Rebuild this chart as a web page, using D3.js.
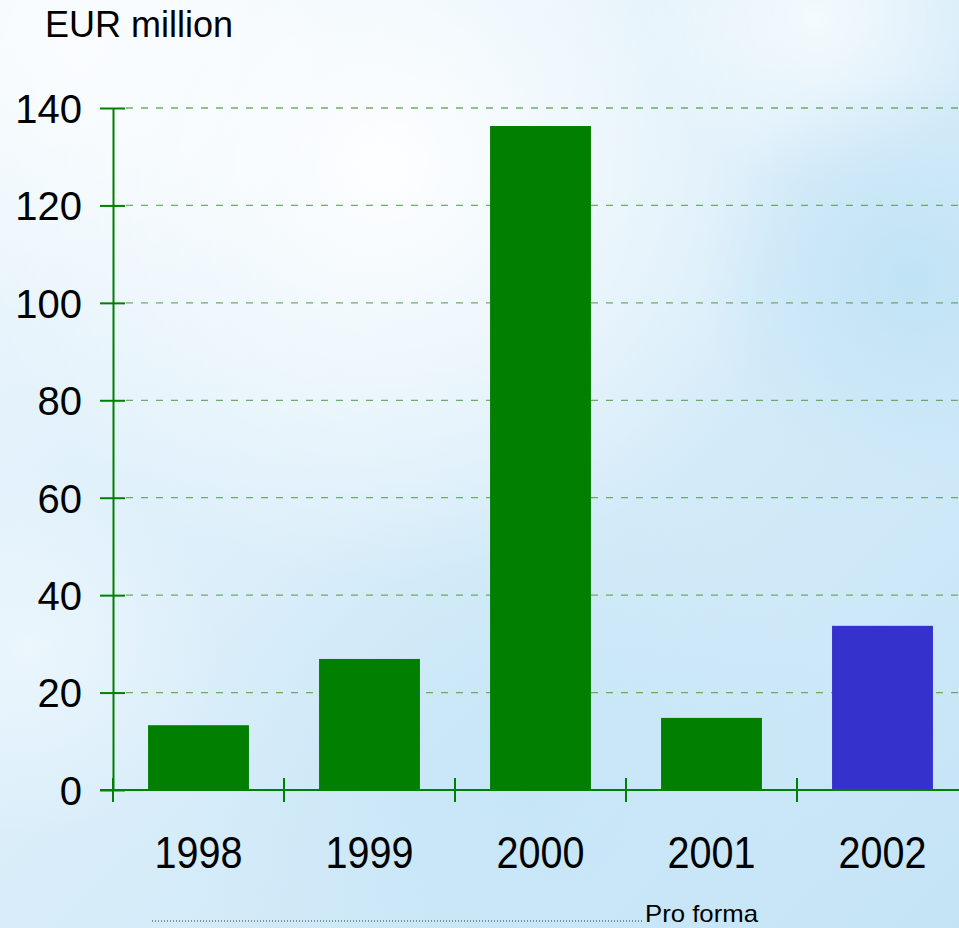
<!DOCTYPE html>
<html>
<head>
<meta charset="utf-8">
<script src="https://cdn.jsdelivr.net/npm/d3@7"></script>
<style>
  body { margin: 0; padding: 0; overflow: hidden; }
  svg { display: block; font-family: "Liberation Sans", Arial, sans-serif; }
</style>
</head>
<body>
<div id="chart"></div>
<script>
const width = 959;
const height = 928;

// data
const years = ["1998", "1999", "2000", "2001", "2002"];
const values = [13.3, 26.9, 136.3, 14.8, 33.7];
const proForma = [false, false, false, false, true];
const yTicks = [0, 20, 40, 60, 80, 100, 120, 140];

const svg = d3.select("#chart").append("svg")
    .attr("width", width)
    .attr("height", height);

// cloudy sky background
const defs = svg.append("defs");
const base = defs.append("linearGradient").attr("id", "bg").attr("x1", 0).attr("y1", 0).attr("x2", 1).attr("y2", 1);
base.append("stop").attr("offset", "0%").attr("stop-color", "#eef7fd");
base.append("stop").attr("offset", "55%").attr("stop-color", "#d6ecf9");
base.append("stop").attr("offset", "100%").attr("stop-color", "#c4e4f6");
svg.append("rect").attr("width", width).attr("height", height).attr("fill", "url(#bg)");

const clouds = [
    { id: "c1", cx: 0.40, cy: 0.18, r: 0.45, color: "#ffffff", op: 0.95 },
    { id: "c2", cx: 0.08, cy: 0.05, r: 0.30, color: "#ffffff", op: 0.7 },
    { id: "c6", cx: 0.85, cy: 0.02, r: 0.18, color: "#ffffff", op: 0.7 },
    { id: "c3", cx: 0.95, cy: 0.30, r: 0.22, color: "#bfe2f6", op: 0.9 },
    { id: "c4", cx: 0.55, cy: 0.85, r: 0.35, color: "#c4e5f7", op: 0.8 },
    { id: "c5", cx: 0.03, cy: 0.70, r: 0.20, color: "#eef7fd", op: 0.8 }
];
clouds.forEach(c => {
    const g = defs.append("radialGradient").attr("id", c.id)
        .attr("cx", c.cx).attr("cy", c.cy).attr("r", c.r);
    g.append("stop").attr("offset", "0%").attr("stop-color", c.color).attr("stop-opacity", c.op);
    g.append("stop").attr("offset", "100%").attr("stop-color", c.color).attr("stop-opacity", 0);
    svg.append("rect").attr("width", width).attr("height", height).attr("fill", `url(#${c.id})`);
});

// scales
const y = d3.scaleLinear().domain([0, 140]).range([790, 108]);
const x = d3.scaleBand().domain(years).range([113, 968])
    .paddingInner(0.41).paddingOuter(0.205);
const step = x.step();

// gridlines
svg.append("g").selectAll("line")
    .data(yTicks.filter(d => d > 0))
    .join("line")
    .attr("x1", 126).attr("x2", width)
    .attr("y1", d => y(d)).attr("y2", d => y(d))
    .attr("stroke", "#58a04c")
    .attr("stroke-opacity", 0.85)
    .attr("stroke-width", 1.3)
    .attr("stroke-dasharray", "7,8");

// bars
svg.append("g").selectAll("rect")
    .data(years)
    .join("rect")
    .attr("x", d => x(d))
    .attr("width", x.bandwidth())
    .attr("y", (d, i) => y(values[i]))
    .attr("height", (d, i) => y(0) - y(values[i]))
    .attr("fill", (d, i) => proForma[i] ? "#3431cc" : "#007f00");

// y axis
const yAxis = svg.append("g")
    .attr("transform", "translate(113,0)")
    .call(d3.axisLeft(y).tickValues(yTicks).tickSize(13).tickPadding(18).tickSizeOuter(0));
yAxis.select(".domain").attr("stroke", "#008000").attr("stroke-width", 2);
yAxis.selectAll(".tick line").attr("stroke", "#008000").attr("stroke-width", 2)
    .attr("x1", 12).attr("x2", -13);
yAxis.selectAll(".tick text")
    .attr("fill", "#000")
    .style("font-size", "40px")
    .attr("x", -31)
    .attr("dy", "0.36em");

// x axis baseline with boundary ticks
const xAxis = svg.append("g");
xAxis.append("line")
    .attr("x1", 100).attr("x2", width)
    .attr("y1", y(0)).attr("y2", y(0))
    .attr("stroke", "#008000").attr("stroke-width", 2);
xAxis.selectAll("line.tk")
    .data(years)
    .join("line")
    .attr("class", "tk")
    .attr("x1", d => x(d) - step * 0.205).attr("x2", d => x(d) - step * 0.205)
    .attr("y1", y(0) - 12).attr("y2", y(0) + 12)
    .attr("stroke", "#008000").attr("stroke-width", 2);
xAxis.selectAll("text")
    .data(years)
    .join("text")
    .attr("x", d => x(d) + x.bandwidth() / 2 - 44)
    .attr("y", 868)
    .style("font-size", "45px")
    .attr("textLength", 88)
    .attr("lengthAdjust", "spacingAndGlyphs")
    .attr("fill", "#000")
    .text(d => d);

// unit label
svg.append("text")
    .attr("x", 45).attr("y", 37)
    .style("font-size", "36px")
    .attr("fill", "#000")
    .text("EUR million");

// pro forma note
svg.append("line")
    .attr("x1", 152).attr("x2", 643)
    .attr("y1", 921).attr("y2", 921)
    .attr("stroke", "#333")
    .attr("stroke-width", 1)
    .attr("stroke-dasharray", "1,2");
svg.append("text")
    .attr("x", 645).attr("y", 922)
    .style("font-size", "24px")
    .attr("textLength", 113)
    .attr("lengthAdjust", "spacingAndGlyphs")
    .attr("fill", "#000")
    .text("Pro forma");
</script>
</body>
</html>
